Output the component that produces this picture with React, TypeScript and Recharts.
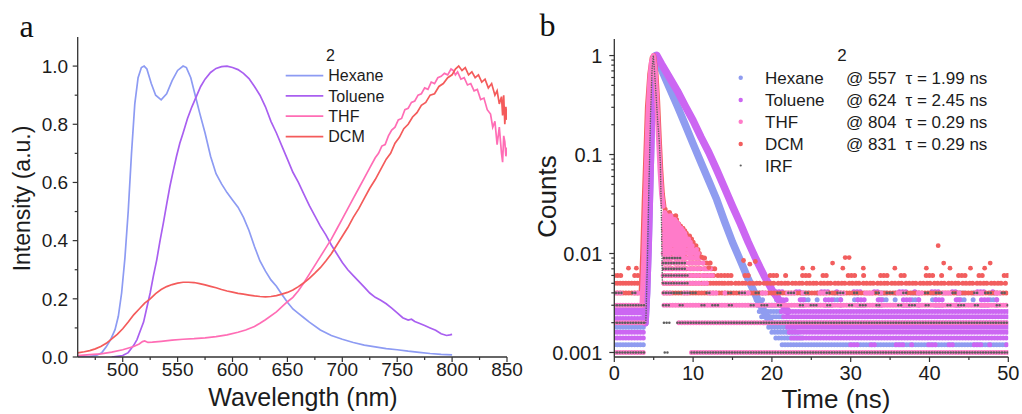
import React from 'react';
import { ComposedChart, Line, Scatter, XAxis, YAxis } from 'recharts';

const FONT = '"Liberation Sans", Arial, Helvetica, sans-serif';
const SERIF = '"Liberation Serif", "Times New Roman", serif';
const AXIS = '#333333';
const INK = '#1c1c1c';

// ---------- panel a colours ----------
const C_HEX = '#8d9bf3';
const C_TOL = '#a95ff0';
const C_THF = '#ff6db5';
const C_DCM = '#f45b5b';
// ---------- panel b colours ----------
const B_HEX = '#8f9cf0';
const B_TOL = '#cc66f2';
const B_THF = '#ff7bc9';
const B_DCM = '#f25e5e';
const B_IRF = '#5e5e5e';

// ================= PANEL A DATA (wavelength nm, normalised intensity) =================
const hexWl = [459,470,476,481,485,489,493,496,499,502, 505,508,511,514,517,519.5,522,526,530,535, 540,545,550,555,558,562,566,570,575,580, 585,590,595,600,605,610,615,620,625,630, 635,640,645,650,655,660,665,670,680,690, 700,710,720,730,740,750,760,770,780,790, 800];
const hexI = [0,0.002,0.005,0.015,0.035,0.06,0.094,0.14,0.22,0.34, 0.5,0.7,0.87,0.96,0.995,1.0,0.99,0.94,0.9,0.884, 0.905,0.95,0.985,1.0,0.995,0.96,0.9,0.84,0.77,0.69, 0.63,0.595,0.565,0.54,0.515,0.48,0.435,0.38,0.33,0.295, 0.265,0.243,0.215,0.188,0.165,0.15,0.135,0.12,0.093,0.074, 0.061,0.05,0.041,0.035,0.029,0.025,0.02,0.016,0.012,0.009, 0.007];

const tolWl = [490,500,505,510,513,516,519,522,525,528, 531,534,537,540,543,546,549,552,555,559, 563,567,571,575,580,585,590,595,600,605, 610,615,620,625,630,635,640,645,650,655, 660,665,670,675,680,685,690,695,700,705, 710,715,720,725,730,735,740,745,750,755, 760,763,766,770,775,780,785,790,795,798, 800];
const tolI = [0,0.005,0.015,0.04,0.06,0.09,0.12,0.17,0.22,0.28, 0.334,0.4,0.46,0.525,0.587,0.64,0.69,0.735,0.77,0.82, 0.86,0.895,0.93,0.955,0.978,0.992,0.998,1.0,0.995,0.988, 0.975,0.957,0.93,0.9,0.86,0.81,0.77,0.725,0.68,0.635, 0.6,0.56,0.52,0.485,0.45,0.42,0.385,0.355,0.325,0.3, 0.28,0.26,0.24,0.22,0.205,0.195,0.183,0.168,0.152,0.135, 0.127,0.13,0.122,0.116,0.108,0.1,0.092,0.08,0.074,0.076, 0.078];

const thfWl = [459,470,480,490,500,510,515,518,520,523, 527,535,545,555,565,575,585,595,605,612, 620,625,630,640,650,655,660,665,670,675, 680,685,690,695,700,705,710,715,720,725, 730,733,736,739,742,745,748,751,754,757, 760,763,766,769,772,775,778,781,784,787, 790,793,796,799,801,803,805,808,811,814, 817,820,823,826,829,832,835,837,839,841, 843,845,846,847,848,849,850];
const thfI = [0.005,0.008,0.011,0.017,0.025,0.036,0.045,0.053,0.055,0.05, 0.051,0.054,0.058,0.061,0.063,0.066,0.07,0.076,0.085,0.093, 0.105,0.116,0.128,0.155,0.19,0.205,0.228,0.255,0.285,0.315, 0.345,0.375,0.405,0.44,0.475,0.51,0.545,0.58,0.615,0.65, 0.685,0.7,0.725,0.73,0.76,0.78,0.79,0.815,0.82,0.85, 0.855,0.875,0.88,0.9,0.905,0.925,0.92,0.945,0.94,0.96, 0.965,0.975,0.97,0.99,0.985,0.97,0.98,0.955,0.96,0.935, 0.94,0.915,0.92,0.885,0.89,0.85,0.835,0.79,0.81,0.73, 0.79,0.7,0.67,0.76,0.74,0.69,0.72];

const dcmWl = [459,465,470,475,480,485,490,495,500,505, 510,515,520,525,530,535,540,545,550,555, 560,565,570,575,580,585,590,595,600,605, 610,615,620,625,630,635,640,645,650,655, 660,665,670,675,680,685,690,695,700,705, 710,715,720,725,730,735,740,744,748,752, 756,760,764,768,772,776,780,784,788,792, 796,800,803,806,809,812,815,818,821,824, 827,830,833,836,839,841,843,845,846,847, 848,849,850];
const dcmI = [0.014,0.018,0.022,0.028,0.036,0.047,0.062,0.078,0.097,0.12, 0.145,0.165,0.185,0.2,0.218,0.232,0.242,0.249,0.254,0.257, 0.257,0.256,0.252,0.248,0.243,0.238,0.232,0.227,0.223,0.219, 0.216,0.213,0.21,0.208,0.207,0.208,0.211,0.216,0.222,0.23, 0.242,0.255,0.27,0.288,0.307,0.33,0.355,0.385,0.415,0.445, 0.48,0.51,0.545,0.58,0.61,0.645,0.68,0.7,0.735,0.755, 0.785,0.8,0.825,0.84,0.865,0.875,0.9,0.905,0.93,0.94, 0.96,0.97,0.99,1.0,0.985,0.995,0.97,0.98,0.96,0.97, 0.945,0.955,0.925,0.94,0.9,0.915,0.87,0.895,0.83,0.9, 0.8,0.86,0.815];

const aXMajor = [500, 550, 600, 650, 700, 750, 800, 850];
const aXMinor = [475, 525, 575, 625, 675, 725, 775, 825];
const aYMajor = [0, 0.2, 0.4, 0.6, 0.8, 1.0];
const aYMinor = [0.1, 0.3, 0.5, 0.7, 0.9];

// ================= PANEL B DATA (time ns, normalised counts) =================
const hexT = [3.9,4.1,4.3,4.5,4.7,4.9,5.1,5.25,6,7, 8,9,10,11,12,13,14,15,16,17, 18,19,20];
const hexC = [0.002,0.004,0.012,0.05,0.2,0.6,0.95,1.0,0.72,0.47, 0.31,0.2,0.128,0.083,0.054,0.035,0.021,0.013,0.0085,0.0055, 0.0037,0.0026,0.0019];

const tolT = [3.9,4.1,4.3,4.5,4.7,4.9,5.1,5.4,6,7, 8,9,10,11,12,13,14,15,16,17, 18,19,20,21,22];
const tolC = [0.002,0.004,0.012,0.05,0.2,0.6,0.93,1.0,0.82,0.6, 0.44,0.31,0.22,0.15,0.105,0.07,0.046,0.03,0.02,0.013, 0.0087,0.006,0.0043,0.0033,0.0026];

const thfT = [3.5,3.7,3.9,4.1,4.3,4.5,4.7,4.95,5.2,5.4, 5.6,5.8,6.0,6.2];
const thfC = [0.003,0.007,0.025,0.09,0.28,0.55,0.85,1.0,0.7,0.35, 0.15,0.07,0.04,0.03];

const dcmT = [3.4,3.6,3.8,4.0,4.2,4.5,4.8,5.0,5.3,5.5, 5.7,5.9,6.1,6.3];
const dcmC = [0.004,0.01,0.035,0.1,0.3,0.65,0.95,1.0,0.65,0.35, 0.15,0.07,0.04,0.03];

const irfT = [4.0,4.2,4.4,4.6,4.8,4.95,5.1,5.3,5.5,5.7, 5.85,5.95,6.05,6.1];
const irfC = [0.002,0.008,0.05,0.25,0.75,1.0,0.7,0.4,0.22,0.14, 0.08,0.03,0.01,0.005];

// rows of quantised counts: [level, from ns, to ns, texture 0 dense / 1 sparse / 2 medium]
const hexRows: number[][] = [
  [0.0012, 0, 3.8, 0], [0.0018, 0, 3.8, 0],
  [0.0012, 21.3, 50, 0], [0.0014, 20.5, 24, 0], [0.0016, 20.0, 23.5, 0], [0.0018, 19.6, 23, 0], [0.002, 19.0, 22, 0],
  [0.0023, 18.7, 21.5, 0], [0.0026, 18.4, 21, 0], [0.003, 18.2, 20.5, 0],
  [0.0034, 18.0, 50, 1], [0.004, 18.0, 50, 1],
];
const tolRows: number[][] = [
  [0.0014, 0, 3.8, 0], [0.0016, 0, 3.8, 0], [0.0022, 0, 3.8, 0], [0.0025, 0, 3.8, 0], [0.0027, 0, 3.8, 0],
  [0.0012, 30, 50, 1], [0.0014, 22.5, 50, 0], [0.0016, 22.2, 50, 0], [0.0018, 22, 50, 0], [0.002, 21.8, 50, 0],
  [0.0023, 21.5, 50, 0], [0.0026, 21.2, 50, 0], [0.003, 21, 50, 1], [0.0034, 21, 50, 1], [0.0041, 20.5, 50, 1],
];
const dcmRows: number[][] = [
  [0.004, 0, 3.6, 0], [0.005, 0, 3.6, 0], [0.006, 0, 3.5, 1],
  [0.004, 6.3, 50, 0], [0.005, 6.3, 14, 0], [0.005, 14, 50, 2], [0.006, 14, 50, 1],
  [0.006, 6.35, 14, 2], [0.007, 6.5, 13, 2], [0.008, 6.3, 12.2, 2], [0.009, 6.45, 11.6, 2], [0.010, 6.35, 11.2, 2],
  [0.011, 6.55, 10.9, 2], [0.012, 6.3, 10.6, 2], [0.013, 6.4, 10.3, 2], [0.014, 6.6, 10.0, 2], [0.015, 6.35, 9.7, 2],
  [0.016, 6.5, 9.4, 2], [0.017, 6.3, 9.2, 2], [0.018, 6.45, 9.0, 2], [0.019, 6.6, 8.8, 2], [0.02, 6.35, 8.6, 2],
  [0.022, 6.5, 8.3, 2], [0.024, 6.4, 7.8, 2], [0.026, 6.55, 7.2, 2], [0.028, 6.45, 6.9, 2],
];
const thfRows: number[][] = [
  [0.001, 0, 3.8, 0], [0.002, 0, 3.8, 0], [0.003, 0, 3.8, 0], [0.004, 0, 3.6, 1],
  [0.001, 9.8, 50, 0], [0.002, 8.2, 50, 0], [0.003, 6.3, 50, 0], [0.004, 6.3, 50, 1], [0.005, 6.3, 12, 2],
  [0.006, 6.2, 12.5, 2], [0.007, 6.32, 12.2, 2], [0.008, 6.25, 11.6, 2], [0.009, 6.4, 11.1, 2], [0.010, 6.2, 10.8, 2],
  [0.011, 6.36, 10.5, 2], [0.012, 6.28, 10.2, 2], [0.013, 6.45, 9.9, 2], [0.014, 6.22, 9.6, 2], [0.015, 6.38, 9.3, 2],
  [0.016, 6.3, 9.0, 2], [0.017, 6.47, 8.8, 2], [0.018, 6.24, 8.6, 2], [0.019, 6.4, 8.4, 2], [0.02, 6.3, 8.2, 2],
  [0.021, 6.45, 8.0, 2], [0.022, 6.27, 7.8, 2], [0.023, 6.4, 7.5, 2], [0.024, 6.33, 7.2, 2], [0.025, 6.5, 6.9, 2],
  [0.026, 6.4, 6.7, 2],
];
const irfRows: number[][] = [
  [0.001, 0, 3.8, 0], [0.002, 0, 3.8, 0], [0.003, 0, 3.8, 0], [0.004, 0.2, 3.5, 1],
  [0.001, 6.4, 7.0, 0], [0.001, 9.8, 50, 0], [0.002, 6.3, 7.1, 0], [0.002, 8.0, 50, 0], [0.003, 6.2, 50, 1],
  [0.004, 6.2, 9.6, 0], [0.004, 9.6, 50, 1], [0.005, 6.2, 9.6, 0], [0.006, 6.2, 9.4, 0], [0.007, 6.2, 9.2, 0],
  [0.008, 6.2, 9.0, 0], [0.009, 6.3, 8.5, 0],
];

// isolated DCM counts above the floor
const dcmDotT = [1.8, 2.8, 11.1, 12.0, 16.4, 17.2, 17.9, 23.9, 25.2, 27.7, 29.0, 29.3, 29.8, 31.6, 35.6, 39.6, 41.1, 41.8, 42.6, 45.2, 47.0, 47.7, 50];
const dcmDotC = [0.0071, 0.0071, 0.0092, 0.0072, 0.0085, 0.0078, 0.0083, 0.0071, 0.0071, 0.008, 0.0071, 0.0091, 0.0091, 0.0071, 0.0071, 0.0071, 0.012, 0.008, 0.0071, 0.0071, 0.0071, 0.008, 0.006];

const bXMajor = [0, 10, 20, 30, 40, 50];
const bXMinor = [5, 15, 25, 35, 45];
const bYMajor = [0.001, 0.01, 0.1, 1];
const bYMinor = [0.002,0.003,0.004,0.005,0.006,0.007,0.008,0.009, 0.02,0.03,0.04,0.05,0.06,0.07,0.08,0.09, 0.2,0.3,0.4,0.5,0.6,0.7,0.8,0.9];

// ---------- helpers ----------
const zipXY = (xs: number[], ys: number[]) => xs.map((x, i) => ({ x, y: ys[i] }));
const zipTC = (ts: number[], cs: number[]) => ts.map((t, i) => ({ t, c: cs[i] }));
const rowsToLine = (rows: number[][], texture: number) => {
  const out: { t: number; c: number | null }[] = [];
  rows.filter((r) => r[3] === texture).forEach(([c, t0, t1]) => {
    out.push({ t: t0, c }, { t: t1, c }, { t: t1, c: null });
  });
  return out;
};
const isMajor = (v: number, majors: number[]) => majors.some((m) => Math.abs(m - v) <= 1e-6 * Math.max(1e-3, Math.abs(m)));
const sortNum = (a: number[]) => [...a].sort((p, q) => p - q);

const DASH = ['0 2.9', '0 3.2 0 3.2 0 14 0 3.2 0 22 0 3.2 0 3.2 0 9 0 17', '0 3.6 0 3.0 0 4.4 0 3.2'];
const IRF_DASH = ['0 2.7', '0 2.8 0 2.8 0 11 0 2.8 0 19 0 2.8 0 8', '0 2.7'];

function XTick(props: any) {
  const { x, y, payload, majors, fmt, fs, base } = props;
  const v = payload.value;
  const mj = isMajor(v, majors);
  return (
    <g>
      <line x1={x} y1={y} x2={x} y2={y + (mj ? 5 : 3)} stroke={AXIS} strokeWidth={1.2} />
      {mj && (
        <text x={x} y={y + base} textAnchor="middle" fontSize={fs} fontFamily={FONT} fill={INK}>
          {fmt(v)}
        </text>
      )}
    </g>
  );
}

function YTick(props: any) {
  const { x, y, payload, majors, fmt, fs, gap } = props;
  const v = payload.value;
  const mj = isMajor(v, majors);
  return (
    <g>
      <line x1={x} y1={y} x2={x - (mj ? 5 : 3)} y2={y} stroke={AXIS} strokeWidth={1.2} />
      {mj && (
        <text x={x - gap} y={y + fs * 0.36} textAnchor="end" fontSize={fs} fontFamily={FONT} fill={INK}>
          {fmt(v)}
        </text>
      )}
    </g>
  );
}

const lineCommon = {
  dot: false as const,
  activeDot: false as const,
  isAnimationActive: false,
  connectNulls: false,
};

function PanelA() {
  return (
    <ComposedChart width={530} height={414} margin={{ top: 37, right: 23, bottom: 0, left: 17.7 }}>
      <XAxis
        xAxisId="b"
        dataKey="x"
        type="number"
        domain={[459, 850]}
        allowDataOverflow
        ticks={sortNum([...aXMajor, ...aXMinor])}
        interval={0}
        height={57}
        tickSize={0}
        tickMargin={0}
        tickLine={false}
        axisLine={{ stroke: AXIS, strokeWidth: 1.3 }}
        tick={(p: any) => <XTick {...p} majors={aXMajor} fmt={(v: number) => String(v)} fs={19} base={19} />}
      />
      <XAxis xAxisId="t" orientation="top" type="number" domain={[459, 850]} height={0} tick={false} tickLine={false} axisLine={{ stroke: AXIS, strokeWidth: 1.3 }} />
      <YAxis
        yAxisId="l"
        type="number"
        domain={[0, 1.1]}
        allowDataOverflow
        ticks={sortNum([...aYMajor, ...aYMinor])}
        interval={0}
        width={60}
        tickSize={0}
        tickMargin={0}
        tickLine={false}
        axisLine={{ stroke: AXIS, strokeWidth: 1.3 }}
        tick={(p: any) => <YTick {...p} majors={aYMajor} fmt={(v: number) => v.toFixed(1)} fs={19} gap={9.5} />}
      />
      <YAxis yAxisId="r" orientation="right" type="number" domain={[0, 1.1]} width={0} tick={false} tickLine={false} axisLine={{ stroke: AXIS, strokeWidth: 1.3 }} />
      <Line xAxisId="b" yAxisId="l" data={zipXY(hexWl, hexI)} dataKey="y" name="Hexane" stroke={C_HEX} strokeWidth={1.7} {...lineCommon} />
      <Line xAxisId="b" yAxisId="l" data={zipXY(tolWl, tolI)} dataKey="y" name="Toluene" stroke={C_TOL} strokeWidth={1.7} {...lineCommon} />
      <Line xAxisId="b" yAxisId="l" data={zipXY(thfWl, thfI)} dataKey="y" name="THF" stroke={C_THF} strokeWidth={1.7} {...lineCommon} />
      <Line xAxisId="b" yAxisId="l" data={zipXY(dcmWl, dcmI)} dataKey="y" name="DCM" stroke={C_DCM} strokeWidth={1.7} {...lineCommon} />
    </ComposedChart>
  );
}

function bandLines(rows: number[][], color: string, irf = false) {
  const w = irf ? 2.6 : 5;
  const dashes = irf ? IRF_DASH : DASH;
  return [0, 1, 2].map((k) => (
    <Line
      key={'r' + k}
      xAxisId="b"
      yAxisId="l"
      data={rowsToLine(rows, k)}
      dataKey="c"
      stroke={color}
      strokeWidth={w}
      strokeLinecap="round"
      strokeDasharray={dashes[k]}
      {...lineCommon}
    />
  ));
}

function PanelB() {
  return (
    <ComposedChart width={502} height={414} margin={{ top: 39, right: 13.7, bottom: 0, left: 34.3 }}>
      <XAxis
        xAxisId="b"
        dataKey="t"
        type="number"
        domain={[0, 50]}
        allowDataOverflow
        ticks={sortNum([...bXMajor, ...bXMinor])}
        interval={0}
        height={57}
        tickSize={0}
        tickMargin={0}
        tickLine={false}
        axisLine={{ stroke: AXIS, strokeWidth: 1.3 }}
        tick={(p: any) => <XTick {...p} majors={bXMajor} fmt={(v: number) => String(v)} fs={20} base={23} />}
      />
      <XAxis xAxisId="t" orientation="top" type="number" domain={[0, 50]} height={0} tick={false} tickLine={false} axisLine={{ stroke: AXIS, strokeWidth: 1.3 }} />
      <YAxis
        yAxisId="l"
        dataKey="c"
        type="number"
        scale="log"
        domain={[0.0009, 1.47]}
        allowDataOverflow
        ticks={sortNum([...bYMajor, ...bYMinor])}
        interval={0}
        width={60}
        tickSize={0}
        tickMargin={0}
        tickLine={false}
        axisLine={{ stroke: AXIS, strokeWidth: 1.3 }}
        tick={(p: any) => <YTick {...p} majors={bYMajor} fmt={(v: number) => String(v)} fs={20} gap={12} />}
      />
      <YAxis yAxisId="r" orientation="right" type="number" domain={[0, 1]} width={0} tick={false} tickLine={false} axisLine={{ stroke: AXIS, strokeWidth: 1.3 }} />

      {bandLines(hexRows, B_HEX)}
      <Line xAxisId="b" yAxisId="l" data={zipTC(hexT, hexC)} dataKey="c" name="Hexane" stroke={B_HEX} strokeWidth={7.5} strokeLinejoin="round" strokeLinecap="round" {...lineCommon} />
      {bandLines(tolRows, B_TOL)}
      <Line xAxisId="b" yAxisId="l" data={zipTC(tolT, tolC)} dataKey="c" name="Toluene" stroke={B_TOL} strokeWidth={7.5} strokeLinejoin="round" strokeLinecap="round" {...lineCommon} />
      {bandLines(dcmRows, B_DCM)}
      <Line xAxisId="b" yAxisId="l" data={zipTC(dcmT, dcmC)} dataKey="c" name="DCM" stroke={B_DCM} strokeWidth={5} strokeLinejoin="round" strokeLinecap="round" {...lineCommon} />
      {bandLines(thfRows, B_THF)}
      <Line xAxisId="b" yAxisId="l" data={zipTC(thfT, thfC)} dataKey="c" name="THF" stroke={B_THF} strokeWidth={5} strokeLinejoin="round" strokeLinecap="round" {...lineCommon} />
      {bandLines(irfRows, B_IRF, true)}
      <Line xAxisId="b" yAxisId="l" data={zipTC(irfT, irfC)} dataKey="c" name="IRF" stroke={B_IRF} strokeWidth={1.6} strokeLinejoin="round" strokeLinecap="round" strokeDasharray="0 2.4" {...lineCommon} />
      <Scatter
        xAxisId="b"
        yAxisId="l"
        data={zipTC(dcmDotT, dcmDotC)}
        dataKey="c"
        isAnimationActive={false}
        shape={(p: any) => <circle cx={p.cx} cy={p.cy} r={2.4} fill={B_DCM} />}
      />
    </ComposedChart>
  );
}

function Overlay() {
  const t = { fontFamily: FONT, fill: INK } as const;
  const legA = [
    { n: 'Hexane', c: C_HEX, y: 75.6 },
    { n: 'Toluene', c: C_TOL, y: 95.8 },
    { n: 'THF', c: C_THF, y: 116.2 },
    { n: 'DCM', c: C_DCM, y: 136.6 },
  ];
  const legB = [
    { n: 'Hexane', c: B_HEX, y: 77.8, at: '@ 557', tau: 'τ = 1.99 ns', r: 2.2 },
    { n: 'Toluene', c: B_TOL, y: 100, at: '@ 624', tau: 'τ = 2.45 ns', r: 2.2 },
    { n: 'THF', c: B_THF, y: 121.8, at: '@ 804', tau: 'τ = 0.29 ns', r: 2.2 },
    { n: 'DCM', c: B_DCM, y: 144, at: '@ 831', tau: 'τ = 0.29 ns', r: 2.2 },
    { n: 'IRF', c: B_IRF, y: 165.5, at: '', tau: '', r: 1.1 },
  ];
  return (
    <svg width={1022} height={414} style={{ position: 'absolute', left: 0, top: 0, pointerEvents: 'none' }}>
      <text x={19.5} y={37} fontFamily={SERIF} fontSize={32} fill="#111">a</text>
      <text x={539.5} y={36} fontFamily={SERIF} fontSize={32} fill="#111">b</text>

      <text x={303} y={406} textAnchor="middle" fontSize={25} {...t}>Wavelength (nm)</text>
      <text transform="translate(29.5,198.5) rotate(-90)" textAnchor="middle" fontSize={23} {...t}>Intensity (a.u.)</text>
      <text x={836} y={408} textAnchor="middle" fontSize={26} {...t}>Time (ns)</text>
      <text transform="translate(556,196.5) rotate(-90)" textAnchor="middle" fontSize={26} {...t}>Counts</text>

      <text x={330.5} y={60.5} textAnchor="middle" fontSize={16} {...t}>2</text>
      {legA.map((r) => (
        <g key={r.n}>
          <line x1={285.7} x2={323.3} y1={r.y} y2={r.y} stroke={r.c} strokeWidth={1.7} />
          <text x={328.3} y={r.y + 5.7} fontSize={16} {...t}>{r.n}</text>
        </g>
      ))}

      <text x={842} y={61} textAnchor="middle" fontSize={17} {...t}>2</text>
      {legB.map((r) => (
        <g key={r.n}>
          <circle cx={740.7} cy={r.y} r={r.r} fill={r.c} />
          <text x={765} y={r.y + 6} fontSize={17} {...t}>{r.n}</text>
          {r.at && <text x={846} y={r.y + 6} fontSize={17} {...t}>{r.at}</text>}
          {r.tau && <text x={905.5} y={r.y + 6} fontSize={17} {...t}>{r.tau}</text>}
        </g>
      ))}
    </svg>
  );
}

export default function App() {
  return (
    <div style={{ position: 'absolute', left: 0, top: 0, width: 1022, height: 414, background: '#fff', overflow: 'hidden' }}>
      <div style={{ position: 'absolute', left: 0, top: 0 }}>
        <PanelA />
      </div>
      <div style={{ position: 'absolute', left: 520, top: 0 }}>
        <PanelB />
      </div>
      <Overlay />
    </div>
  );
}
